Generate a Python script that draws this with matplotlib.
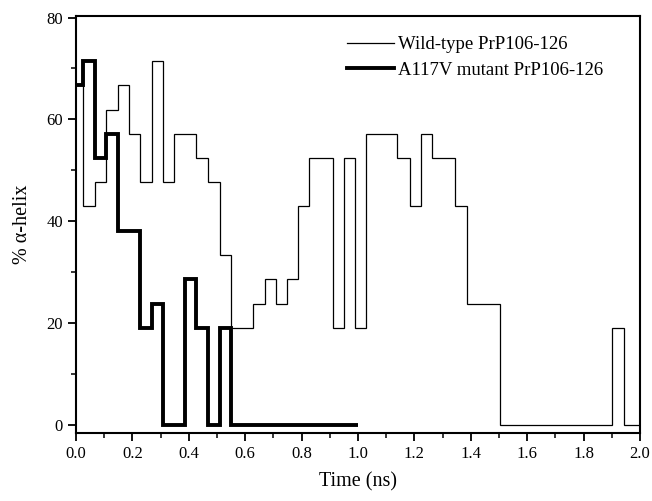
import matplotlib
matplotlib.use("Agg")
import matplotlib.pyplot as plt
from matplotlib.ticker import MultipleLocator

plt.rcParams['font.family'] = ['Liberation Serif', 'DejaVu Serif']

# wild-type PrP106-126: step edges (ns) and % alpha-helix in each step
wt_edges = [0.0, 0.026, 0.067, 0.108, 0.150, 0.188, 0.227, 0.268, 0.307, 0.348,
            0.427, 0.468, 0.510, 0.549, 0.628, 0.669, 0.708, 0.748, 0.789, 0.828,
            0.911, 0.949, 0.989, 1.029, 1.137, 1.185, 1.224, 1.263, 1.345, 1.385,
            1.503, 1.902, 1.944, 2.0]
wt_helix = [66.7, 42.9, 47.6, 61.9, 66.7, 57.1, 47.6, 71.4, 47.6, 57.1,
            52.4, 47.6, 33.3, 19.0, 23.8, 28.6, 23.8, 28.6, 42.9, 52.4,
            19.0, 52.4, 19.0, 57.1, 52.4, 42.9, 57.1, 52.4, 42.9, 23.8,
            0.0, 19.0, 0.0]

# A117V mutant PrP106-126
mut_edges = [0.0, 0.026, 0.067, 0.108, 0.150, 0.227, 0.268, 0.309, 0.388,
             0.427, 0.468, 0.510, 0.551, 1.0]
mut_helix = [66.7, 71.4, 52.4, 57.1, 38.1, 19.0, 23.8, 0.0, 28.6,
             19.0, 0.0, 19.0, 0.0]

fig = plt.figure(figsize=(6.52, 5.01), dpi=100)
ax = fig.add_axes([76/652, 1 - 433.3/501, (640-76)/652, (433.3-16)/501])

ax.stairs(wt_helix, wt_edges, baseline=None, color='black', lw=0.9,
          label='Wild-type PrP106-126')
ax.stairs(mut_helix, mut_edges, baseline=None, color='black', lw=2.8,
          label='A117V mutant PrP106-126')

ax.set_xlim(0, 2.0)
ax.set_ylim(-1.7, 80.3)
ax.xaxis.set_major_locator(MultipleLocator(0.2))
ax.xaxis.set_minor_locator(MultipleLocator(0.1))
ax.yaxis.set_major_locator(MultipleLocator(20))
ax.yaxis.set_minor_locator(MultipleLocator(10))
ax.xaxis.set_major_formatter(lambda v, p: '%.1f' % v)
ax.tick_params(which='major', direction='out', length=6, width=1.3, labelsize=12)
ax.tick_params(which='minor', direction='out', length=3.5, width=1.1)
for s in ax.spines.values():
    s.set_linewidth(1.5)

ax.set_xlabel('Time (ns)', fontsize=14.5, labelpad=7)
ax.set_ylabel('% α-helix', fontsize=14.5, labelpad=10)

ax.legend(loc='upper left', bbox_to_anchor=(347/652, 1 - 36/501),
          bbox_transform=fig.transFigure, frameon=False, borderpad=0,
          borderaxespad=0, handlelength=2.5, handletextpad=0.2,
          labelspacing=0.45, fontsize=13.5)

fig.savefig('out.png', dpi=100)
